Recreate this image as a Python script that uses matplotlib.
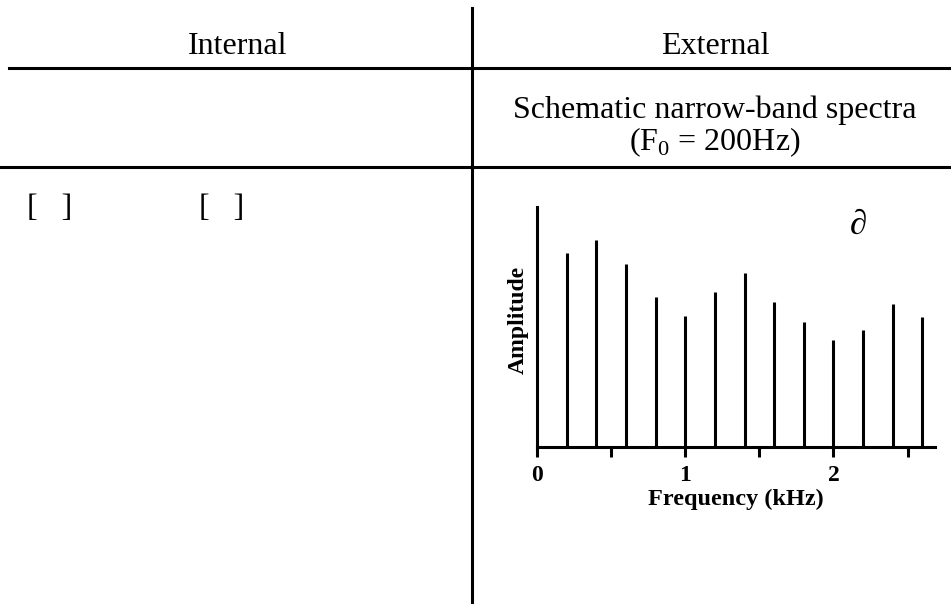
import matplotlib
matplotlib.use("Agg")
import matplotlib.pyplot as plt
from matplotlib.lines import Line2D

plt.rcParams['font.family'] = ['Liberation Serif', 'DejaVu Serif']
plt.rcParams['mathtext.fontset'] = 'custom'
plt.rcParams['mathtext.rm'] = 'Liberation Serif'

W, H = 951, 604

# harmonics of F0 = 200 Hz
freqs_khz = [0.2, 0.4, 0.6, 0.8, 1.0, 1.2, 1.4, 1.6, 1.8, 2.0, 2.2, 2.4, 2.6]
amps = [80.9, 86.1, 76.2, 62.5, 54.6, 64.5, 72.4, 60.4, 52.1, 44.6, 48.8, 59.6, 54.2]
major_ticks = [0, 1, 2]
major_labels = ['0', '1', '2']
minor_ticks = [0.5, 1.5, 2.5]

fig = plt.figure(figsize=(W / 100, H / 100), dpi=100)


def fx(px):
    return px / W


def fy(py):
    return 1 - py / H


# table rules
fig.add_artist(Line2D([fx(472), fx(472)], [fy(8), fy(604)], color='black', lw=2.2))
fig.add_artist(Line2D([fx(9), fx(951)], [fy(68), fy(68)], color='black', lw=2.2))
fig.add_artist(Line2D([fx(0), fx(951)], [fy(167), fy(167)], color='black', lw=2.2))

fs = 23
fig.text(fx(238), fy(46), 'Internal', ha='center', va='center', fontsize=fs)
fig.text(fx(715), fy(46), 'External', ha='center', va='center', fontsize=fs)
fig.text(fx(715), fy(110), 'Schematic narrow-band spectra', ha='center', va='center', fontsize=fs)
fig.text(fx(715), fy(142), r'(F$_{\mathrm{0}}$ = 200Hz)', ha='center', va='center', fontsize=fs)

fig.text(fx(27), fy(208), '[   ]', ha='left', va='center', fontsize=fs)
fig.text(fx(199), fy(208), '[   ]', ha='left', va='center', fontsize=fs)

# spectrum panel
left, right, top, bottom = 537, 935, 207, 447
ax = fig.add_axes([fx(left), fy(bottom), (right - left) / W, (bottom - top) / H])
ax.vlines(freqs_khz, 0, amps, color='black', lw=2.2)
ax.set_xlim(0, 2.685)
ax.set_ylim(0, 100)
for s in ['top', 'right']:
    ax.spines[s].set_visible(False)
for s in ['left', 'bottom']:
    ax.spines[s].set_linewidth(2.2)
ax.set_yticks([])
ax.set_xticks(major_ticks)
ax.set_xticklabels(major_labels, fontsize=17, fontweight='bold')
ax.set_xticks(minor_ticks, minor=True)
ax.tick_params(axis='x', which='both', direction='out', length=7, width=2.2, pad=6)
ax.set_xlabel('Frequency (kHz)', fontsize=17.5, fontweight='bold', labelpad=2)
ax.set_ylabel('Amplitude', fontsize=17, fontweight='bold')
ax.yaxis.set_label_coords(-0.02, (bottom - 320) / (bottom - top))
ax.text(2.17, 92.5, '\u2202', fontsize=25, style='italic', fontweight='bold',
        ha='center', va='center')

fig.savefig('out.png', dpi=100)
